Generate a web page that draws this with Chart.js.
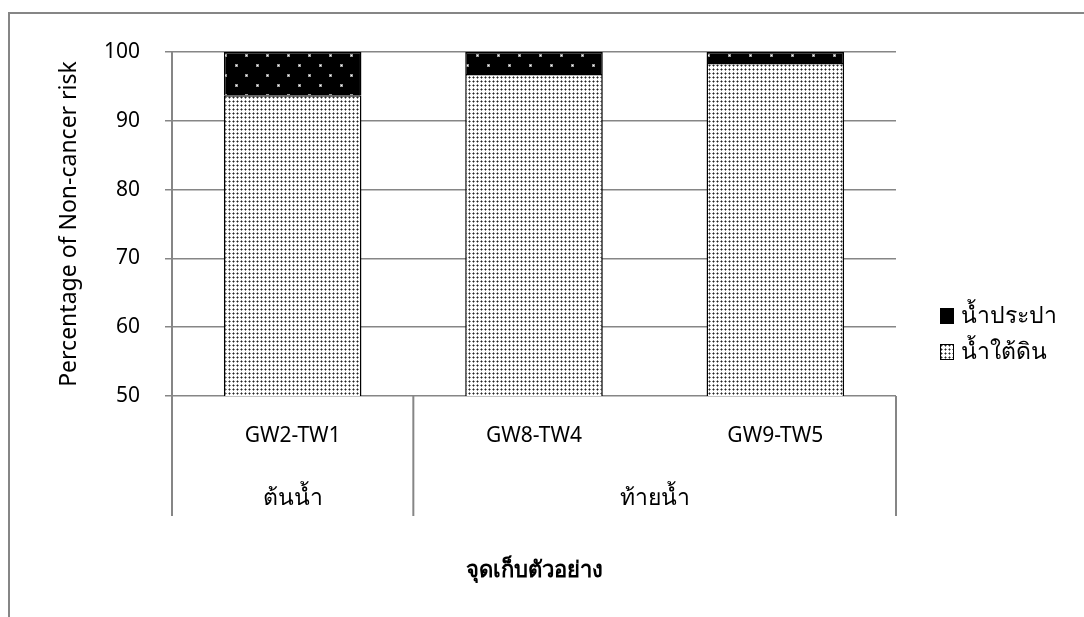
<!DOCTYPE html>
<html>
<head>
<meta charset="utf-8">
<script src="https://cdn.jsdelivr.net/npm/chart.js@4.4.1/dist/chart.umd.min.js"></script>
<style>
  html, body { margin: 0; padding: 0; background: #fff; }
</style>
</head>
<body>
<canvas id="riskChart" width="1084" height="617"></canvas>
<script>
// sampling points and their upstream / downstream groups
var sites = ["GW2-TW1", "GW8-TW4", "GW9-TW5"];
var groups = ["ต้นน้ำ", "ท้ายน้ำ"];
var groupSpans = [1, 2];

// percentage of non-cancer risk by water source
var groundwater = [93.7, 96.8, 98.4];
var tapWater = [6.3, 3.2, 1.6];

var yTicks = [50, 60, 70, 80, 90, 100];

var GRID = "#868686";
var FONT = "'Noto Sans', 'Open Sans', sans-serif";

function makeDots() {
  var c = document.createElement("canvas");
  c.width = 4; c.height = 4;
  var g = c.getContext("2d");
  g.fillStyle = "#fff";
  g.fillRect(0, 0, 4, 4);
  g.fillStyle = "#8a8a8a";
  g.fillRect(0, 1, 3, 1);
  g.fillRect(1, 0, 1, 3);
  g.fillStyle = "#222";
  g.fillRect(1, 1, 1, 1);
  return g.createPattern(c, "repeat");
}

function makeDark() {
  var c = document.createElement("canvas");
  c.width = 21; c.height = 20;
  var g = c.getContext("2d");
  g.fillStyle = "#000";
  g.fillRect(0, 0, 21, 20);
  g.fillStyle = "#999";
  g.fillRect(4, 4, 3, 3);
  g.fillRect(14, 14, 3, 3);
  g.fillStyle = "#fff";
  g.fillRect(5, 5, 1, 1);
  g.fillRect(15, 15, 1, 1);
  return g.createPattern(c, "repeat");
}

var frame = {
  id: "frame",
  beforeDraw: function(chart) {
    var ctx = chart.ctx;
    ctx.save();
    ctx.fillStyle = "#fff";
    ctx.fillRect(0, 0, chart.width, chart.height);
    ctx.strokeStyle = GRID;
    ctx.lineWidth = 2;
    ctx.beginPath();
    ctx.moveTo(9, chart.height);
    ctx.lineTo(9, 13);
    ctx.lineTo(chart.width, 13);
    ctx.stroke();
    ctx.restore();
  }
};

// second level of the x axis: group names and separators
var groupAxis = {
  id: "groupAxis",
  afterDraw: function(chart) {
    var ctx = chart.ctx;
    var x = chart.scales.x;
    var area = chart.chartArea;
    var step = (area.right - area.left) / sites.length;
    ctx.save();
    ctx.strokeStyle = GRID;
    ctx.lineWidth = 2;
    ctx.fillStyle = "#000";
    ctx.font = "23px " + FONT;
    ctx.textAlign = "center";
    ctx.textBaseline = "middle";
    var start = 0;
    var edges = [area.left];
    groupSpans.forEach(function(span, i) {
      var l = x.getPixelForValue(start) - step / 2;
      var r = x.getPixelForValue(start + span - 1) + step / 2;
      edges.push(r);
      ctx.fillText(groups[i], (l + r) / 2, 498);
      start += span;
    });
    edges.forEach(function(e) {
      ctx.beginPath();
      ctx.moveTo(e, area.bottom);
      ctx.lineTo(e, 516);
      ctx.stroke();
    });
    ctx.restore();
  }
};

// legend on the right, top item = last dataset
var sideLegend = {
  id: "sideLegend",
  afterDraw: function(chart) {
    var ctx = chart.ctx;
    var sets = chart.data.datasets.slice().reverse();
    ctx.save();
    ctx.font = "23px " + FONT;
    ctx.textBaseline = "middle";
    sets.forEach(function(ds, i) {
      var cy = 316 + i * 36;
      ctx.fillStyle = ds.backgroundColor;
      ctx.fillRect(940, cy - 8, 14, 16);
      ctx.strokeStyle = "#000";
      ctx.lineWidth = 1;
      ctx.strokeRect(940.5, cy - 7.5, 13, 15);
      ctx.fillStyle = "#000";
      ctx.fillText(ds.label, 961, cy);
    });
    ctx.restore();
  }
};

new Chart(document.getElementById("riskChart"), {
  type: "bar",
  data: {
    labels: sites,
    datasets: [
      {
        label: "น้ำใต้ดิน",
        data: groundwater,
        backgroundColor: makeDots(),
        borderColor: "#000",
        borderWidth: 1.5
      },
      {
        label: "น้ำประปา",
        data: tapWater,
        backgroundColor: makeDark(),
        borderColor: "#000",
        borderWidth: 1.5
      }
    ]
  },
  options: {
    responsive: false,
    animation: false,
    layout: { padding: { left: 10, top: 52, right: 188, bottom: 29 } },
    datasets: { bar: { barPercentage: 0.57, categoryPercentage: 1 } },
    plugins: {
      legend: { display: false },
      tooltip: { enabled: false }
    },
    scales: {
      x: {
        stacked: true,
        afterFit: function(s) { s.height = 192; },
        grid: { display: false, drawTicks: false },
        border: { display: false },
        ticks: { color: "#000", padding: 27, font: { family: FONT, size: 21 } },
        title: {
          display: true,
          text: "จุดเก็บตัวอย่าง",
          color: "#000",
          font: { family: FONT, size: 22, weight: "bold" }
        }
      },
      y: {
        stacked: true,
        min: 50,
        max: 100,
        afterFit: function(s) { s.width = 162; },
        afterBuildTicks: function(s) {
          s.ticks = yTicks.map(function(v) { return { value: v }; });
        },
        grid: { color: GRID, lineWidth: 1.5, tickLength: 7 },
        border: { display: true, color: GRID, width: 2 },
        ticks: { color: "#000", padding: 25, font: { family: FONT, size: 21 } },
        title: {
          display: true,
          text: "Percentage of Non-cancer risk",
          color: "#000",
          padding: { top: 46 },
          font: { family: FONT, size: 23 }
        }
      }
    }
  },
  plugins: [frame, groupAxis, sideLegend]
});
</script>
</body>
</html>
